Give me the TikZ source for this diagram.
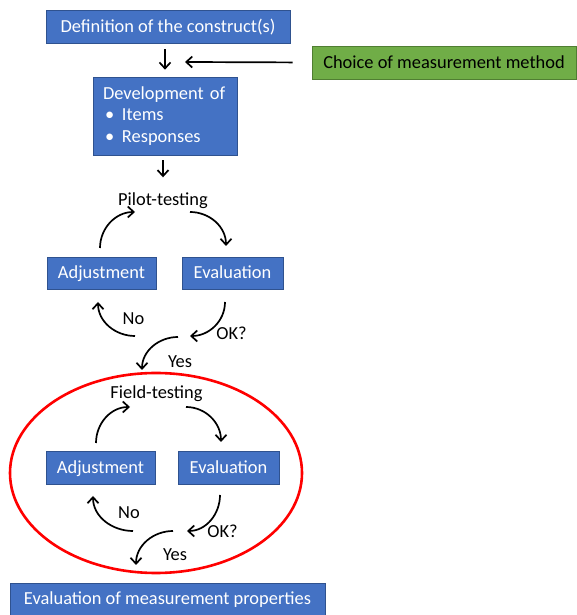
\documentclass[tikz,border=0pt]{standalone}
\usepackage{fontspec}
\setmainfont{Carlito}
\usetikzlibrary{arrows.meta}
\definecolor{boxblue}{HTML}{4472C4}
\definecolor{boxblueline}{HTML}{2F528F}
\definecolor{boxgreen}{HTML}{70AD47}
\definecolor{boxgreenline}{HTML}{507E32}
\begin{document}
\begin{tikzpicture}[x=1pt,y=1pt,
  every node/.style={font=\fontsize{18.4}{21.5}\selectfont},
  oneline/.style={text height=15.8pt, text depth=4pt},
  bluebox/.style={draw=boxblueline, line width=0.6pt, fill=boxblue, text=white, inner sep=0pt, minimum height=33pt},
  greenbox/.style={draw=boxgreenline, line width=0.6pt, fill=boxgreen, text=black, inner sep=0pt, minimum height=33pt, oneline},
  lbl/.style={inner sep=0pt, text=black, oneline},
  arr/.style={-{Straight Barb[length=6pt,width=11pt]}, line width=1.7pt},
  ring/.style={draw=red, line width=2.6pt}
]
\useasboundingbox (0,0) rectangle (576,615);

% top part
\node[bluebox, oneline, minimum width=244pt] (def) at (168,588.5) {Definition of the construct(s)};
\node[greenbox, minimum width=264pt] (choice) at (444,552.5) {Choice of measurement method};
\node[bluebox, minimum width=144pt, minimum height=78pt, align=left, text width=124pt] (dev) at (165,499)
  {Development of\\\makebox[19pt][l]{\hspace{2pt}\textbullet}Items\\\makebox[19pt][l]{\hspace{2pt}\textbullet}Responses};
\coordinate (merge) at (185,553);
\draw[arr, shorten <=6pt, shorten >=7pt] (def.south -| 165,0) -- (dev.north);
\draw[arr, shorten <=19pt] (choice.west) -- (merge);

% pilot-testing loop
\node[lbl] (pilot) at (163,415) {Pilot-testing};
\draw[arr, shorten <=5pt] (dev.south -| pilot.north -| 163,0) -- ++(0,-22);
\node[bluebox, oneline, minimum width=109pt, minimum height=32pt] (adj1) at (101.5,342) {Adjustment};
\node[bluebox, oneline, minimum width=101pt, minimum height=32pt] (eva1) at (232.5,342) {Evaluation};
\node[lbl] (ok1) at (231.5,281) {OK?};
\node[lbl] (no1) at (133.5,296) {No};
\node[lbl] (yes1) at (180,253) {Yes};
\coordinate (p1s) at (100,367); \coordinate (p1e) at (135,403);
\coordinate (p2s) at (190,403); \coordinate (p2e) at (226,369);
\coordinate (p3s) at (225,313); \coordinate (p3e) at (190,279);
\coordinate (p4s) at (135,279); \coordinate (p4e) at (98,313);
\coordinate (p5s) at (178,278); \coordinate (p5e) at (142,245);
\draw[arr] (p1s) to[out=90,in=180] (p1e);
\draw[arr] (p2s) to[out=0,in=90] (p2e);
\draw[arr] (p3s) to[out=-90,in=0] (p3e);
\draw[arr] (p4s) to[out=180,in=-90] (p4e);
\draw[arr] (p5s) to[out=180,in=90] (p5e);

% field-testing loop
\draw[ring] (156,142) ellipse[x radius=146, y radius=100];
\node[lbl] (field) at (156.5,222) {Field-testing};
\node[bluebox, oneline, minimum width=109pt] (adj2) at (100.5,147.5) {Adjustment};
\node[bluebox, oneline, minimum width=101pt] (eva2) at (228.5,147.5) {Evaluation};
\node[lbl] (ok2) at (222.5,83) {OK?};
\node[lbl] (no2) at (129,102) {No};
\node[lbl] (yes2) at (175,60) {Yes};
\coordinate (f1s) at (96,172); \coordinate (f1e) at (130,208);
\coordinate (f2s) at (186,208); \coordinate (f2e) at (221,173);
\coordinate (f3s) at (220,120); \coordinate (f3e) at (187,84);
\coordinate (f4s) at (133,84); \coordinate (f4e) at (93,119);
\coordinate (f5s) at (173,84); \coordinate (f5e) at (136,50);
\draw[arr] (f1s) to[out=90,in=180] (f1e);
\draw[arr] (f2s) to[out=0,in=90] (f2e);
\draw[arr] (f3s) to[out=-90,in=0] (f3e);
\draw[arr] (f4s) to[out=180,in=-90] (f4e);
\draw[arr] (f5s) to[out=180,in=90] (f5e);

% final
\node[bluebox, oneline, minimum width=315pt, minimum height=32pt] (final) at (167.5,16) {Evaluation of measurement properties};
\end{tikzpicture}
\end{document}
